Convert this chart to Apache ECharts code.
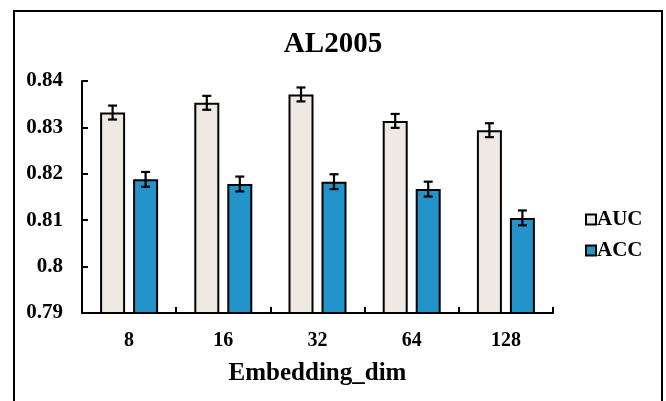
<!DOCTYPE html>
<html>
<head>
<meta charset="utf-8">
<script src="https://cdn.jsdelivr.net/npm/echarts@6/dist/echarts.min.js"></script>
<style>
html,body{margin:0;padding:0;background:#fff;}
#c{width:666px;height:401px;}
</style>
</head>
<body>
<div id="c"></div>
<script>
var categories = ['8', '16', '32', '64', '128'];
var aucValues = [0.8332, 0.8353, 0.8371, 0.8314, 0.8294];
var aucErrors = [0.0015, 0.0015, 0.0015, 0.0015, 0.0015];
var accValues = [0.8188, 0.8178, 0.8183, 0.8167, 0.8105];
var accErrors = [0.0016, 0.0016, 0.0016, 0.0016, 0.0016];
var yTicks = { min: 0.79, max: 0.84, interval: 0.01 };

var FONT = '"Liberation Serif", "DejaVu Serif", serif';
var BAR_W = 25;
var OFFSET = 16.5;

function errSeries(name, values, errors, dx) {
  return {
    type: 'custom',
    name: name + '_err',
    z: 10,
    silent: true,
    data: values.map(function (v, i) { return [i, v - errors[i], v + errors[i]]; }),
    renderItem: function (params, api) {
      var i = api.value(0);
      var lo = api.coord([i, api.value(1)]);
      var hi = api.coord([i, api.value(2)]);
      var x = lo[0] + dx;
      var cap = 4.5;
      var st = { stroke: '#000', lineWidth: 2.2 };
      return {
        type: 'group',
        children: [
          { type: 'line', shape: { x1: x, y1: lo[1], x2: x, y2: hi[1] }, style: st },
          { type: 'line', shape: { x1: x - cap, y1: lo[1], x2: x + cap, y2: lo[1] }, style: st },
          { type: 'line', shape: { x1: x - cap, y1: hi[1], x2: x + cap, y2: hi[1] }, style: st }
        ]
      };
    }
  };
}

var chart = echarts.init(document.getElementById('c'), null, { renderer: 'canvas' });
chart.setOption({
  animation: false,
  backgroundColor: '#fff',
  title: {
    text: 'AL2005',
    left: 'center',
    top: 25,
    textStyle: { fontFamily: FONT, fontSize: 29, fontWeight: 'bold', color: '#000' }
  },
  graphic: [{
    type: 'rect',
    shape: { x: 14, y: 11, width: 648, height: 420 },
    style: { fill: 'none', stroke: '#000', lineWidth: 2 },
    silent: true
  }],
  legend: {
    orient: 'vertical',
    left: 580,
    top: 204,
    icon: 'rect',
    itemWidth: 10,
    itemHeight: 10,
    itemGap: 10,
    data: ['AUC', 'ACC'],
    textStyle: { fontFamily: FONT, fontSize: 21, fontWeight: 'bold', color: '#000', padding: [0, 0, 0, -4] }
  },
  grid: { left: 82, right: 113, top: 81, bottom: 88, containLabel: false },
  xAxis: {
    type: 'category',
    data: categories,
    name: 'Embedding_dim',
    nameLocation: 'middle',
    nameGap: 48,
    nameTextStyle: { fontFamily: FONT, fontSize: 25, fontWeight: 'bold', color: '#000' },
    axisLine: { lineStyle: { color: '#000', width: 2 } },
    axisTick: { show: true, inside: true, length: 6, alignWithLabel: false, lineStyle: { color: '#000', width: 2 } },
    axisLabel: { fontFamily: FONT, fontSize: 20, fontWeight: 'bold', color: '#000', margin: 18 }
  },
  yAxis: {
    type: 'value',
    min: yTicks.min,
    max: yTicks.max,
    interval: yTicks.interval,
    splitLine: { show: false },
    axisLine: { show: true, lineStyle: { color: '#000', width: 2 } },
    axisTick: { show: true, inside: true, length: 6, lineStyle: { color: '#000', width: 2 } },
    axisLabel: {
      fontFamily: FONT, fontSize: 21, fontWeight: 'bold', color: '#000', margin: 19,
      formatter: function (v) { return String(+v.toFixed(2)); }
    }
  },
  series: [
    {
      name: 'AUC', type: 'bar', data: aucValues, barWidth: BAR_W, barGap: '32%',
      itemStyle: { color: '#EFE9E4', borderColor: '#000', borderWidth: 2 }
    },
    {
      name: 'ACC', type: 'bar', data: accValues, barWidth: BAR_W, barGap: '32%',
      itemStyle: { color: '#2394CA', borderColor: '#000', borderWidth: 2 }
    },
    errSeries('AUC', aucValues, aucErrors, -OFFSET),
    errSeries('ACC', accValues, accErrors, OFFSET)
  ]
});
</script>
</body>
</html>
